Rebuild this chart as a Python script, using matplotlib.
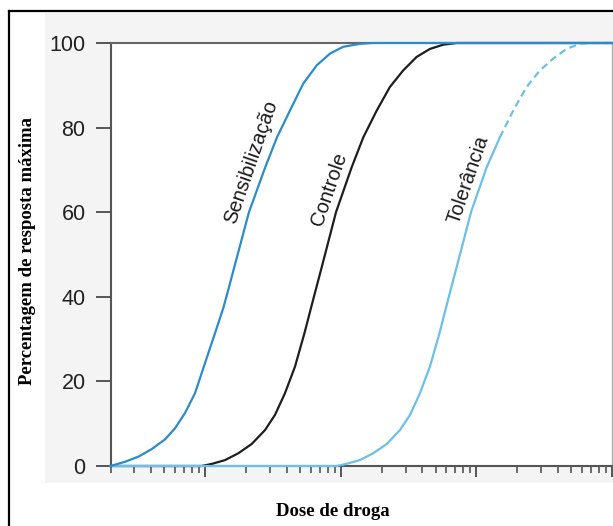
import matplotlib
matplotlib.use("Agg")
import matplotlib.pyplot as plt
from matplotlib.patches import Rectangle
from matplotlib.lines import Line2D
from matplotlib.ticker import LogLocator, NullFormatter, FixedLocator

# ---- data ----
sens_dose = [2.0, 2.56, 3.21, 4.03, 5.05, 5.98, 7.08, 8.40, 9.95, 11.8, 13.6, 14.8, 16.3,
             21.0, 27.6, 33.8, 42.1, 52.8, 66.3, 83.2, 104.0, 138.0, 173.0, 10000.0]
sens_resp = [0.0, 1.0, 2.2, 4.0, 6.3, 8.9, 12.5, 17.2, 24.3, 31.4, 37.4, 41.7, 46.8,
             60.0, 70.5, 77.7, 84.0, 90.4, 94.7, 97.5, 99.1, 99.8, 100.0, 100.0]

ctrl_dose = [2.0, 9.42, 11.2, 14.0, 17.5, 22.0, 27.6, 32.7, 38.7, 45.9, 53.9, 63.4, 72.0,
             92.1, 119.8, 146.4, 183.7, 230.0, 288.0, 362.0, 454.0, 569.0, 714.0, 10000.0]
ctrl_resp = [0.0, 0.0, 0.5, 1.4, 3.0, 5.2, 8.5, 12.1, 17.2, 23.5, 31.4, 40.1, 46.8,
             60.0, 70.5, 77.7, 84.0, 89.6, 93.5, 96.7, 98.6, 99.6, 100.0, 100.0]

tol_dose = [2.0, 93.0, 110.0, 138.0, 173.0, 218.0, 273.0, 324.0, 383.0, 454.0, 534.0, 627.0,
            712.0, 912.0, 1186.0, 1489.0]
tol_resp = [0.0, 0.0, 0.5, 1.4, 3.0, 5.2, 8.5, 12.1, 17.2, 23.5, 31.4, 40.1,
            46.8, 60.0, 70.5, 77.7]

tol_dash_dose = [1489.0, 1866.0, 2342.0, 2936.0, 3680.0, 4620.0, 5790.0, 6870.0, 10000.0]
tol_dash_resp = [77.7, 84.0, 89.6, 93.5, 96.3, 98.6, 99.8, 100.0, 100.0]

y_ticks = [0, 20, 40, 60, 80, 100]
labels = ["Sensibilização", "Controle", "Tolerância"]
y_label = "Percentagem de resposta máxima"
x_label = "Dose de droga"

# ---- colours ----
c_sens = "#2c8ccb"
c_ctrl = "#1e1e1e"
c_tol = "#6cc0e8"

W, H = 613, 526
fig = plt.figure(figsize=(W / 100, H / 100), dpi=100)
fig.patch.set_facecolor("white")

# light grey backdrop behind the plot
fig.patches.append(Rectangle((45 / W, 1 - 483 / H), 1 - 45 / W, (483 - 12.7) / H,
                             transform=fig.transFigure, facecolor="#f4f4f4",
                             edgecolor="none", zorder=-5))
# outer black frame (left and top visible)
fig.lines.append(Line2D([8.5 / W, 8.5 / W], [0, 1 - 10.7 / H], transform=fig.transFigure,
                        color="black", lw=1.6, zorder=1))
fig.lines.append(Line2D([8.5 / W, 1], [1 - 10.7 / H, 1 - 10.7 / H], transform=fig.transFigure,
                        color="black", lw=1.6, zorder=1))

ax = fig.add_axes([110.5 / W, 1 - 466 / H, (612 - 110.5) / W, (466 - 43) / H])
ax.set_zorder(5)
ax.set_facecolor("white")
ax.set_xscale("log")
ax.set_xlim(2, 10000)
ax.set_ylim(0, 100)

lw = 1.6
ax.plot(ctrl_dose, ctrl_resp, color=c_ctrl, lw=lw, clip_on=False, zorder=3)
ax.plot(tol_dose, tol_resp, color=c_tol, lw=lw, clip_on=False, zorder=3)
ax.plot(tol_dash_dose, tol_dash_resp, color=c_tol, lw=lw, ls=(0, (3.2, 2.0)), clip_on=False, zorder=3)
ax.plot(sens_dose, sens_resp, color=c_sens, lw=lw, clip_on=False, zorder=4)

# curve labels
lab_font = dict(family="Liberation Sans", fontsize=14.5, color="#1a1a1a")
ax.text(21.7, 72.0, labels[0], rotation=71, ha="center", va="center", rotation_mode="anchor", **lab_font)
ax.text(81.5, 65.4, labels[1], rotation=71, ha="center", va="center", rotation_mode="anchor", **lab_font)
ax.text(870, 67.8, labels[2], rotation=71, ha="center", va="center", rotation_mode="anchor", **lab_font)

# spines
for s in ["left", "bottom"]:
    ax.spines[s].set_color("#555555")
    ax.spines[s].set_linewidth(1.5)
ax.spines["top"].set_color("#666666")
ax.spines["top"].set_linewidth(1.5)
ax.spines["right"].set_color("#b0b0b0")
ax.spines["right"].set_linewidth(1.0)

# y ticks
ax.yaxis.set_major_locator(FixedLocator(y_ticks))
ax.tick_params(axis="y", direction="out", length=11, width=1.4, color="#555555",
               pad=7, labelsize=15.5, labelcolor="#222222")
for t in ax.get_yticklabels():
    t.set_fontfamily("Liberation Sans")

# x ticks (log, no labels)
ax.xaxis.set_major_locator(LogLocator(base=10, numticks=10))
ax.xaxis.set_minor_locator(LogLocator(base=10, subs=range(2, 10), numticks=20))
ax.xaxis.set_major_formatter(NullFormatter())
ax.xaxis.set_minor_formatter(NullFormatter())
ax.tick_params(axis="x", which="major", direction="out", length=8, width=1.4, color="#555555")
ax.tick_params(axis="x", which="minor", direction="out", length=5, width=1.2, color="#555555")

# axis titles
fig.text(28 / W, 1 - 251 / H, y_label, rotation=90, ha="center", va="center",
         family="Liberation Serif", fontweight="bold", fontsize=13.5, color="black")
fig.text(333 / W, 1 - 511 / H, x_label, ha="center", va="center",
         family="Liberation Serif", fontweight="bold", fontsize=13.5, color="black")

fig.savefig("out.png", dpi=100)
